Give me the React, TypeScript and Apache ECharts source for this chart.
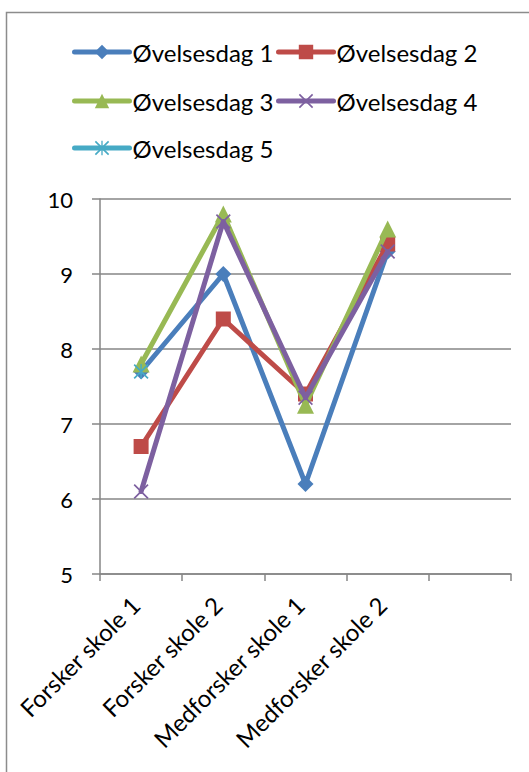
import React, { useEffect, useRef } from "react";
import * as echarts from "echarts";

// Categories along the x axis (the last slot is left empty)
const categories: string[] = [
  "Forsker skole 1",
  "Forsker skole 2",
  "Medforsker skole 1",
  "Medforsker skole 2",
  "",
];

const seriesNames: string[] = [
  "Øvelsesdag 1",
  "Øvelsesdag 2",
  "Øvelsesdag 3",
  "Øvelsesdag 4",
  "Øvelsesdag 5",
];

// Scores per practice day
const dag1: (number | null)[] = [7.7, 9.0, 6.2, 9.3];
const dag2: (number | null)[] = [6.7, 8.4, 7.4, 9.4];
const dag3: (number | null)[] = [7.8, 9.8, 7.25, 9.6];
const dag4: (number | null)[] = [6.1, 9.7, 7.35, 9.3];
const dag5: (number | null)[] = [7.7, null, null, null];

const yMin = 5;
const yMax = 10;
const yStep = 1;

const colors = ["#4A7EBB", "#BE4B48", "#98B954", "#7D60A0", "#46AAC5"];

// Thin "x" marker and "x + vertical bar" star marker
const crossPath =
  "path://M0,1.6 L1.6,0 L10,8.4 L18.4,0 L20,1.6 L11.6,10 L20,18.4 L18.4,20 L10,11.6 L1.6,20 L0,18.4 L8.4,10 Z";
const starPath =
  "path://M0,1.6 L1.6,0 L10,8.4 L18.4,0 L20,1.6 L11.6,10 L20,18.4 L18.4,20 L10,11.6 L1.6,20 L0,18.4 L8.4,10 Z M9.1,0 L10.9,0 L10.9,20 L9.1,20 Z";

const markers = ["diamond", "rect", "triangle", crossPath, starPath];
const markerSizes = [16, 15, 17, 15, 15];
const values = [dag1, dag2, dag3, dag4, dag5];

const FONT = "Lato, 'Open Sans', sans-serif";

// legend slot positions: [left, row centre]
const legendSlots: [number, number][] = [
  [72, 52],
  [276, 52],
  [72, 101],
  [276, 101],
  [72, 148],
];

export default function App() {
  const ref = useRef<HTMLDivElement>(null);

  useEffect(() => {
    if (!ref.current) return;
    const chart = echarts.init(ref.current, undefined, { renderer: "svg" });

    const legends = seriesNames.map((name, i) => ({
      data: [name],
      left: legendSlots[i][0],
      top: legendSlots[i][1] - 14,
      padding: 0,
      itemWidth: 55,
      itemHeight: 18,
      lineStyle: { width: 5, cap: "round" },
      textStyle: {
        fontFamily: FONT,
        fontSize: 24,
        color: "#000",
        lineHeight: 28,
        padding: [0, 0, 0, -2],
      },
    }));

    chart.setOption({
      animation: false,
      backgroundColor: "#fff",
      graphic: [
        {
          type: "rect",
          shape: { x: 6.5, y: 12.5, width: 700, height: 900 },
          style: { fill: "none", stroke: "#8c8c8c", lineWidth: 1.5 },
          z: 100,
        },
      ],
      legend: legends,
      grid: {
        left: 100,
        right: 18,
        top: 199,
        bottom: 198,
        containLabel: false,
      },
      xAxis: {
        type: "category",
        data: categories,
        boundaryGap: true,
        axisLine: { lineStyle: { color: "#868686", width: 1.5 } },
        axisTick: {
          show: true,
          length: 7,
          lineStyle: { color: "#868686", width: 1.5 },
        },
        axisLabel: {
          rotate: 45,
          interval: 0,
          margin: 21,
          padding: [0, 8, 0, 0],
          fontFamily: FONT,
          fontSize: 24,
          color: "#000",
        },
      },
      yAxis: {
        type: "value",
        min: yMin,
        max: yMax,
        interval: yStep,
        axisLine: { show: true, lineStyle: { color: "#868686", width: 1.5 } },
        axisTick: {
          show: true,
          length: 8,
          lineStyle: { color: "#868686", width: 1.5 },
        },
        splitLine: { lineStyle: { color: "#868686", width: 1.5 } },
        axisLabel: {
          margin: 27,
          fontFamily: FONT,
          fontSize: 22,
          color: "#000",
        },
      },
      series: seriesNames.map((name, i) => ({
        name,
        type: "line",
        data: values[i],
        symbol: markers[i],
        symbolSize: markerSizes[i],
        showAllSymbol: true,
        connectNulls: false,
        color: colors[i],
        lineStyle: { width: 5, color: colors[i], cap: "round", join: "round" },
        itemStyle: { color: colors[i], borderWidth: 0 },
        emphasis: { disabled: true },
        z: 2 + i,
      })),
    });

    return () => chart.dispose();
  }, []);

  return (
    <div
      ref={ref}
      style={{ position: "fixed", left: 0, top: 0, width: 529, height: 772 }}
    />
  );
}
